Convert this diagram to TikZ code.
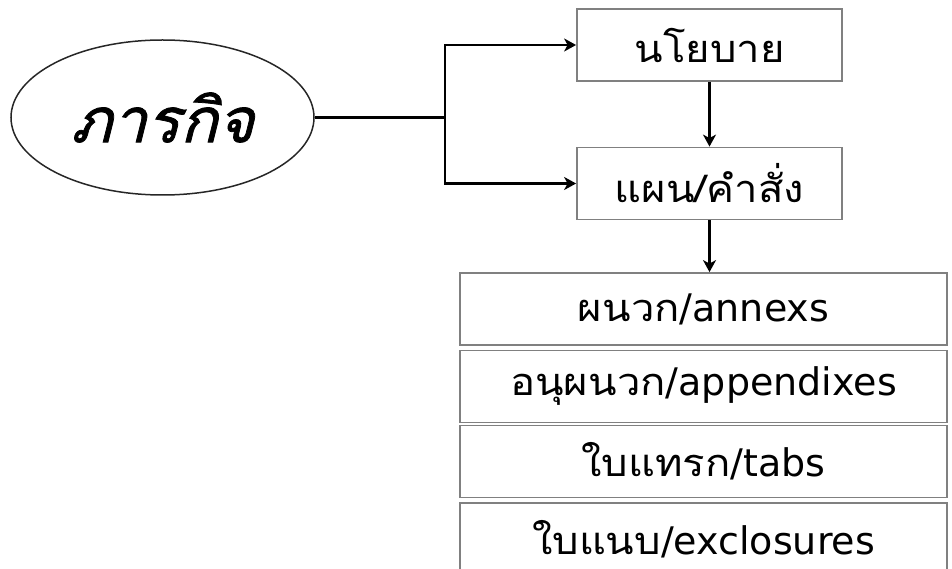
\documentclass[tikz,border=0pt]{standalone}
\usepackage{fontspec}
\setmainfont{DejaVu Sans}
\newfontfamily\thaifont[Script=Thai,FakeStretch=1.1]{Loma}
\newfontfamily\thaiit[Script=Thai,FakeSlant=0.25,FakeBold=1.2]{Loma}
\usetikzlibrary{shapes.geometric,arrows.meta}
\begin{document}
\begin{tikzpicture}[x=1pt,y=-1pt,
  box/.style={draw=black!50,line width=1.8pt,fill=white,minimum width=265pt,minimum height=72pt,inner sep=0pt,font=\fontsize{38}{40}\selectfont},
  wide/.style={box,minimum width=487pt},
  arr/.style={line width=2.4pt,-{Stealth[length=12pt,width=13pt,inset=3.5pt]}},
  ln/.style={line width=2.2pt}]
\useasboundingbox (0,0) rectangle (952,569);
\node[draw=black!85,line width=1.5pt,ellipse,minimum width=303pt,minimum height=155pt,inner sep=0pt,font=\thaiit\fontsize{62}{64}\selectfont] (ell) at (162.5,117.5) {ภารกิจ};
\node[box] (b1) at (709.5,45) {\thaifont นโยบาย};
\node[box] (b2) at (709.5,183.5) {\thaifont แผน/คำสั่ง};
\node[wide] (a1) at (703.5,309) {{\thaifont ผนวก}/annexs};
\node[wide] (a2) at (703.5,386.5) {{\thaifont อนุผนวก}/appendixes};
\node[wide] (a3) at (703.5,461.5) {{\thaifont ใบแทรก}/tabs};
\node[wide] (a4) at (703.5,539) {\raisebox{4pt}{{\thaifont ใบแนบ}/exclosures}};
\coordinate (br) at (445,117.5);
\draw[ln] (ell.east) -- (br);
\draw[arr] (br) |- (b1.west);
\draw[arr] (br) |- (b2.west);
\draw[arr] (b1.south) -- (b2.north);
\draw[arr] (b2.south) -- (b2.south |- a1.north);
\end{tikzpicture}
\end{document}
